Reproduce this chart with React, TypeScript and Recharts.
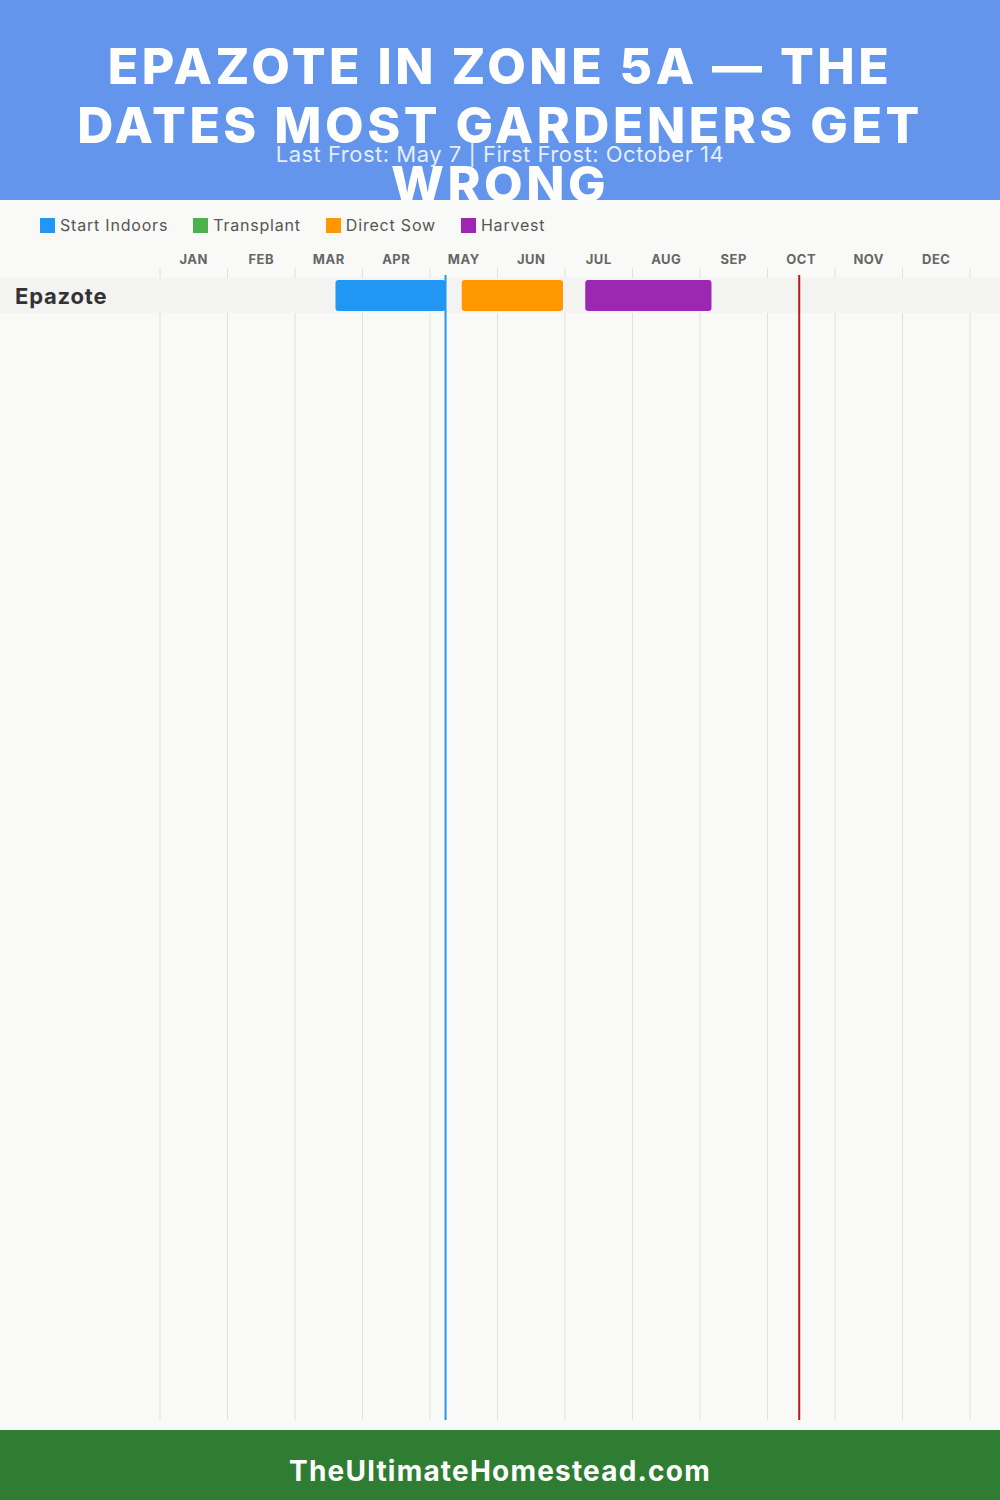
import { BarChart, Bar, XAxis, YAxis, CartesianGrid, ReferenceLine } from 'recharts';

// planting calendar, values are in months from Jan 1 (0 = Jan 1, 12 = Dec 31)
const months = ['JAN', 'FEB', 'MAR', 'APR', 'MAY', 'JUN', 'JUL', 'AUG', 'SEP', 'OCT', 'NOV', 'DEC'];
const crops = ['Epazote'];
const startIndoors: ([number, number] | null)[] = [[2.6, 4.23]];
const transplant: ([number, number] | null)[] = [null];
const directSow: ([number, number] | null)[] = [[4.47, 5.97]];
const harvest: ([number, number] | null)[] = [[6.3, 8.17]];
const lastFrost = 4.23; // May 7
const firstFrost = 9.47; // Oct 14

const titleLines = ['EPAZOTE IN ZONE 5A — THE', 'DATES MOST GARDENERS GET', 'WRONG'];
const subtitle = 'Last Frost: May 7 | First Frost: October 14';

const phases = [
  { key: 'indoors', label: 'Start Indoors', color: '#2196F3', values: startIndoors },
  { key: 'transplant', label: 'Transplant', color: '#4CAF50', values: transplant },
  { key: 'sow', label: 'Direct Sow', color: '#FF9800', values: directSow },
  { key: 'harvest', label: 'Harvest', color: '#9C27B0', values: harvest },
];

const W = 1000;
const H = 1230;
const LEFT = 160;
const RIGHT = 30;
const halfMonth = (W - LEFT - RIGHT) / 24;
const font = 'Inter, "Open Sans", sans-serif';

// turn each phase range into stacked pieces: transparent gap + coloured length
const data = crops.map((name, i) => {
  const row: Record<string, any> = { name };
  let prevEnd = 0;
  phases.forEach((p) => {
    const v = p.values[i];
    if (v) {
      row[p.key + 'Gap'] = v[0] - prevEnd;
      row[p.key] = v[1] - v[0];
      prevEnd = v[1];
    } else {
      row[p.key + 'Gap'] = 0;
      row[p.key] = 0;
    }
  });
  return row;
});

const RowBand = (props: any) => {
  if (props.y == null) return <g />;
  return <rect x={0} y={props.y - 2} width={W} height={props.height + 4} fill="#f3f3f2" />;
};

const MonthTick = (props: any) => {
  const { x, payload } = props;
  if (payload.value >= 12) return <g />;
  return (
    <text x={x + halfMonth} y={59} textAnchor="middle" dominantBaseline="central"
      fontSize={13} fontWeight={700} fill="#666" fontFamily={font} letterSpacing={0.5}>
      {months[payload.value]}
    </text>
  );
};

const CropTick = (props: any) => {
  const { y, payload } = props;
  return (
    <text x={15} y={y} textAnchor="start" dominantBaseline="central"
      fontSize={22} fontWeight={700} fill="#333" fontFamily={font} letterSpacing={0.8}>
      {payload.value}
    </text>
  );
};

const FrostLine = (color: string) => (props: any) => {
  const { x1, y1, x2, y2 } = props;
  return <line x1={x1} y1={y1 + 7} x2={x2} y2={y2} stroke={color} strokeWidth={2} />;
};

export default function App() {
  return (
    <div style={{ position: 'absolute', left: 0, top: 0, width: 1000, height: 1500, background: '#f9f9f7', overflow: 'hidden', fontFamily: font }}>
      <div style={{ position: 'absolute', left: 0, top: 0, width: 1000, height: 200, background: '#6495ED', overflow: 'hidden' }}>
        {titleLines.map((t, i) => (
          <div key={i} style={{ position: 'absolute', left: 0, width: 1000, top: 36 + i * 59, height: 60, lineHeight: '60px', textAlign: 'center', color: '#fff', fontSize: 50, fontWeight: 800, letterSpacing: 3.5 }}>
            {t}
          </div>
        ))}
        <div style={{ position: 'absolute', left: 0, width: 1000, top: 142, height: 24, lineHeight: '24px', textAlign: 'center', color: 'rgba(255,255,255,0.85)', fontSize: 22, letterSpacing: 0.5 }}>
          {subtitle}
        </div>
      </div>

      <div style={{ position: 'absolute', left: 40, top: 214, height: 22, display: 'flex', alignItems: 'center', gap: 25 }}>
        {phases.map((p) => (
          <div key={p.key} style={{ display: 'flex', alignItems: 'center', gap: 5, fontSize: 16, color: '#555', letterSpacing: 0.8 }}>
            <span style={{ display: 'inline-block', width: 15, height: 15, background: p.color }} />
            <span>{p.label}</span>
          </div>
        ))}
      </div>

      <div style={{ position: 'absolute', left: 0, top: 200 }}>
        <BarChart width={W} height={H} data={data} layout="vertical"
          margin={{ top: 38, right: RIGHT, bottom: 10, left: 0 }} barSize={31}>
          <CartesianGrid horizontal={false} stroke="#e0e0e0" />
          <XAxis type="number" orientation="top" domain={[0, 12]} ticks={[0, 1, 2, 3, 4, 5, 6, 7, 8, 9, 10, 11, 12]}
            height={30} axisLine={false} tickLine={false} tick={<MonthTick />} interval={0} />
          <YAxis type="category" dataKey="name" width={LEFT} axisLine={false} tickLine={false}
            padding={{ top: 10, bottom: 1107 }} tick={<CropTick />} />
          {phases.map((p, idx) => [
            <Bar key={p.key + 'Gap'} dataKey={p.key + 'Gap'} stackId="a" fill="transparent"
              shape={idx === 0 ? <RowBand /> : () => <g />} isAnimationActive={false} />,
            <Bar key={p.key} dataKey={p.key} stackId="a" fill={p.color} radius={3} isAnimationActive={false} />,
          ])}
          <ReferenceLine x={lastFrost} stroke="#2196F3" strokeWidth={2} shape={FrostLine('#2196F3')} />
          <ReferenceLine x={firstFrost} stroke="#b71c1c" strokeWidth={2} shape={FrostLine('#b71c1c')} />
        </BarChart>
      </div>

      <div style={{ position: 'absolute', left: 0, top: 1430, width: 1000, height: 70, background: '#2E7D32', color: '#fff', textAlign: 'center', lineHeight: '82px', fontSize: 28, fontWeight: 700, letterSpacing: 1.2 }}>
        TheUltimateHomestead.com
      </div>
    </div>
  );
}
